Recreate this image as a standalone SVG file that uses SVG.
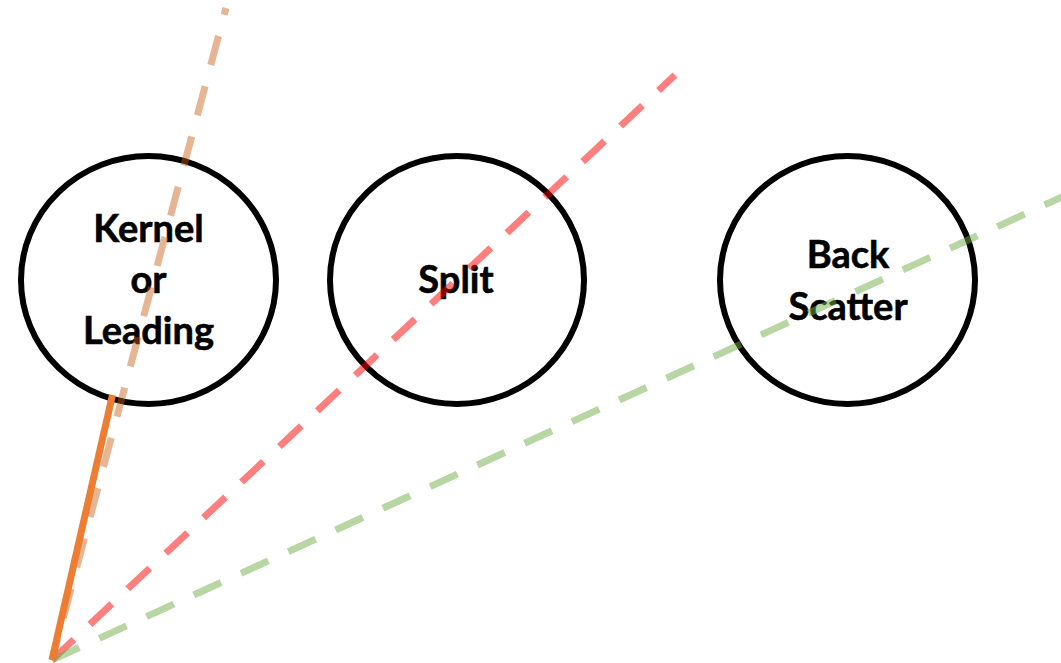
<svg xmlns="http://www.w3.org/2000/svg" width="1061" height="663" viewBox="0 0 1061 663">
<style>
.node ellipse{fill:#fff;stroke:#000;stroke-width:6}
.node text{font-family:Lato,"Liberation Sans",sans-serif;font-weight:bold;font-size:38px;fill:#000;text-anchor:middle;stroke:#000;stroke-width:0.6}
.dash{fill:none;stroke-width:7;stroke-dasharray:30 22;stroke-linecap:butt}
</style>
<rect width="1061" height="663" fill="#fff"/>
<g id="kernel" class="node">
<ellipse cx="148.5" cy="280" rx="127.5" ry="124"/>
<text x="148.5" y="242">Kernel</text>
<text x="148.5" y="293">or</text>
<text x="148.5" y="344">Leading</text>
</g>
<g id="split" class="node">
<ellipse cx="457" cy="280" rx="127" ry="124"/>
<text x="456" y="293">Split</text>
</g>
<g id="backscatter" class="node">
<ellipse cx="847.5" cy="280" rx="127.5" ry="124"/>
<text x="848" y="268">Back</text>
<text x="848" y="320">Scatter</text>
</g>
<g id="connectors">
<line class="dash" x1="226" y1="8" x2="52" y2="660" stroke="#C55A11" stroke-opacity="0.45" stroke-dashoffset="23"/>
<line class="dash" x1="52" y1="660" x2="675" y2="75" stroke="#FF0000" stroke-opacity="0.5"/>
<line class="dash" x1="52" y1="660" x2="1075" y2="191" stroke="#70AD47" stroke-opacity="0.5"/>
<line x1="52" y1="660" x2="112.5" y2="395" stroke="#ED7D31" stroke-width="7"/>
</g>
</svg>
